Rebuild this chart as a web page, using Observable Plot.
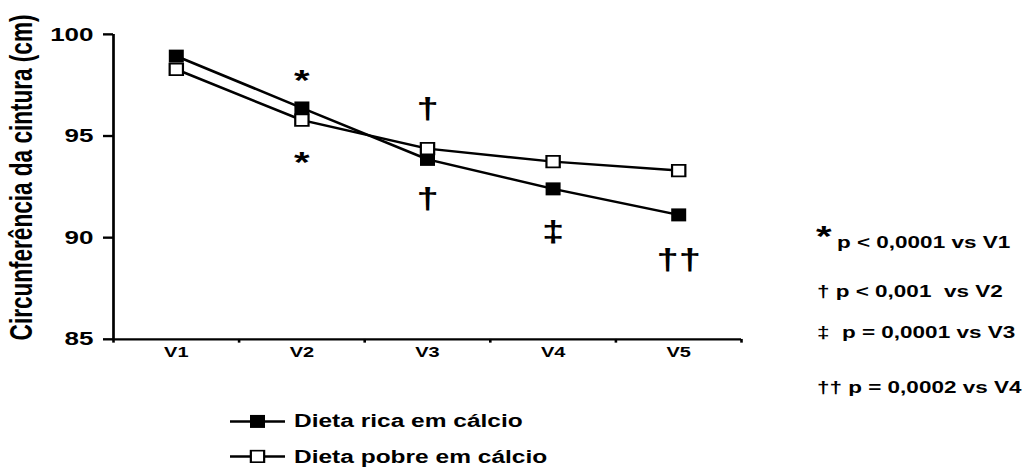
<!DOCTYPE html>
<html>
<head>
<meta charset="utf-8">
<script src="https://cdn.jsdelivr.net/npm/d3@7"></script>
<script src="https://cdn.jsdelivr.net/npm/@observablehq/plot@0.6"></script>
<style>
  html, body { margin: 0; padding: 0; background: #fff; }
  #chart { width: 1030px; height: 475px; overflow: hidden; }
  #chart svg { font-family: Arial, "Liberation Sans", sans-serif; font-weight: bold; background: #fff; color: #000; }
</style>
</head>
<body>
<div id="chart"></div>
<script>
// ---- data ----
const visits = ["V1", "V2", "V3", "V4", "V5"];
const seriesNames = ["Dieta rica em cálcio", "Dieta pobre em cálcio"];
const rica = [98.93, 96.38, 93.85, 92.40, 91.12];
const pobre = [98.28, 95.78, 94.38, 93.74, 93.30];
const yTicks = [85, 90, 95, 100];
const annVisits = ["V2", "V2", "V3", "V3", "V4", "V5"];
const annLabels = ["*", "*", "†", "†", "‡", "††"];
const annValues = [97.75, 93.72, 96.32, 91.9, 90.25, 88.9];
const yTitle = "Circunferência da cintura (cm)";
const notes = ["p < 0,0001 vs V1", "† p < 0,001  vs V2", "‡  p = 0,0001 vs V3", "†† p = 0,0002 vs V4"];

// ---- build ----
const k = 0.74;                 // vertical squash of the original picture
const W = 1030, H = Math.round(475 / k);
const U = (y) => y / k;         // picture y -> svg user units

const rows = [];
visits.forEach((v, i) => rows.push({visit: v, idx: i + 0.5, value: rica[i], series: seriesNames[0]}));
visits.forEach((v, i) => rows.push({visit: v, idx: i + 0.5, value: pobre[i], series: seriesNames[1]}));
const anns = annVisits.map((v, i) => ({idx: visits.indexOf(v) + 0.5, value: annValues[i], label: annLabels[i]}));
const xLabels = visits.map((v, i) => ({idx: i + 0.5, label: v}));

const tallSquare = {
  draw(ctx, size) {
    const s = Math.sqrt(size), h = s * 1.17;
    ctx.moveTo(-s / 2, -h / 2); ctx.lineTo(s / 2, -h / 2);
    ctx.lineTo(s / 2, h / 2); ctx.lineTo(-s / 2, h / 2); ctx.closePath();
  }
};
const rRica = 15 / Math.sqrt(Math.PI);
const rPobre = 13.3 / Math.sqrt(Math.PI);
const lineW = 3.3;

const plot = Plot.plot({
  width: W,
  height: H,
  marginLeft: 113,
  marginRight: 289,
  marginTop: U(34),
  marginBottom: H - U(339),
  x: {domain: [0, visits.length], axis: null},
  y: {domain: [85, 100], axis: null},
  marks: [
    Plot.axisY({ticks: yTicks, tickSize: 10, tickFormat: () => "", label: null, strokeWidth: 3.2}),
    Plot.axisX({ticks: d3.range(visits.length + 1), tickFormat: () => "", tickSize: 5, label: null, strokeWidth: 2.6}),
    Plot.text(yTicks, {x: 0, y: (d) => d, text: (d) => String(d), textAnchor: "end", dx: -20, fontSize: 26, fontWeight: "bold", fill: "#000", lineAnchor: "middle"}),
    Plot.text(xLabels, {x: "idx", y: 85, text: "label", dy: 10, lineAnchor: "top", fontSize: 20, fontWeight: "bold", fill: "#000"}),
    Plot.ruleX([0], {stroke: "#000", strokeWidth: 2.7}),
    Plot.ruleY([85], {stroke: "#000", strokeWidth: 3.1}),
    Plot.line(rows.filter(d => d.series === seriesNames[0]), {x: "idx", y: "value", stroke: "#000", strokeWidth: lineW}),
    Plot.dot(rows.filter(d => d.series === seriesNames[0]), {x: "idx", y: "value", symbol: tallSquare, r: rRica, fill: "#000", stroke: "none"}),
    Plot.line(rows.filter(d => d.series === seriesNames[1]), {x: "idx", y: "value", stroke: "#000", strokeWidth: lineW}),
    Plot.dot(rows.filter(d => d.series === seriesNames[1]), {x: "idx", y: "value", symbol: tallSquare, r: rPobre, fill: "#fff", stroke: "#000", strokeWidth: 2.2}),
    Plot.text(anns, {x: "idx", y: "value", text: "label", fontSize: 40, fontWeight: "bold", fill: "#000", lineAnchor: "middle"})
  ]
});

plot.setAttribute("preserveAspectRatio", "none");
plot.setAttribute("height", 475);
plot.style.height = "475px";
plot.style.width = "1030px";
plot.style.maxWidth = "none";

const svg = d3.select(plot);

// y title
svg.append("text")
  .attr("transform", `translate(32,${U(177.5)}) rotate(-90)`)
  .attr("text-anchor", "middle").attr("font-size", 30.5).attr("font-weight", "bold").attr("fill", "#000")
  .text(yTitle);

// right-hand notes
const notesG = svg.append("g").attr("fill", "#000").attr("font-weight", "bold").attr("font-size", 22.5)
  .attr("text-anchor", "start").attr("style", "white-space:pre");
notesG.append("text").attr("x", 816).attr("y", U(229) + 0.585 * 40).attr("font-size", 40).text("*");
const noteX = [837, 817, 817, 817];
const noteY = [248, 297, 338, 393];
notes.forEach((t, i) => {
  notesG.append("text").attr("x", noteX[i]).attr("y", U(noteY[i])).text(t);
});

// legend
const legY = [421.5, 456.5];
const legBase = [427, 463];
const legG = svg.append("g").attr("text-anchor", "start");
seriesNames.forEach((name, i) => {
  const yy = U(legY[i]);
  legG.append("line").attr("x1", 230).attr("x2", 285).attr("y1", yy).attr("y2", yy).attr("stroke", "#000").attr("stroke-width", lineW);
  const s = i === 0 ? 15 : 13.3, h = s * 1.17;
  legG.append("rect").attr("x", 257.5 - s / 2).attr("y", yy - h / 2).attr("width", s).attr("height", h)
    .attr("fill", i === 0 ? "#000" : "#fff").attr("stroke", i === 0 ? "none" : "#000").attr("stroke-width", 2.2);
  legG.append("text").attr("x", 294).attr("y", U(legBase[i])).attr("font-size", 24.5).attr("font-weight", "bold").attr("fill", "#000").text(name);
});

document.getElementById("chart").appendChild(plot);
</script>
</body>
</html>
